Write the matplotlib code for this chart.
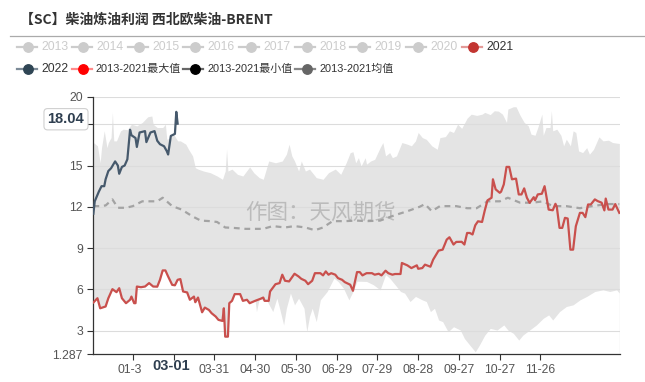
import matplotlib
matplotlib.use('Agg')
import matplotlib.pyplot as plt
import matplotlib.transforms as mtransforms
from matplotlib.lines import Line2D
from matplotlib.patches import Rectangle

W, H = 645, 382
plt.rcParams['font.family'] = ['Liberation Sans Narrow', 'Liberation Sans', 'Noto Sans CJK SC', 'DejaVu Sans']
plt.rcParams['lines.scale_dashes'] = False

# ---------------- text ----------------
title = '【SC】柴油炼油利润 西北欧柴油-BRENT'
watermark = '作图：天风期货'
tag_value = 18.04

# ---------------- x axis (day index, 0 = 01-01) ----------------
tick_days = [29, 59, 89, 119, 149, 179, 209, 239, 269, 299, 329]
tick_labels = ['01-30', '03-01', '03-31', '04-30', '05-30', '06-29', '07-29', '08-28', '09-27', '10-27', '11-26']
highlight_label = '03-01'

y_ticks = [1.287, 3, 6, 9, 12, 15, 18, 20]
y_labels = ['1.287', '3', '6', '9', '12', '15', '', '20']   # 18 is hidden under the value tag
grid_vals = [3, 6, 9, 12, 15, 18, 20]

# ---------------- 2022 ----------------
days22 = [0, 1, 4, 6, 8, 9, 11, 13, 16, 18, 19, 21, 23, 25, 27, 28,
          31, 32, 34, 38, 39, 42, 45, 47, 49, 52, 54, 55, 57, 60, 61, 62]
vals22 = [11.5, 12.4, 13.1, 13.5, 13.5, 14.0, 14.6, 14.8, 15.3, 15.0, 14.4, 14.9, 15.0, 15.45, 17.6, 17.2,
          17.0, 16.35, 17.4, 17.5, 16.7, 17.4, 17.5, 16.8, 16.55, 16.4, 16.05, 15.8, 17.15, 17.3, 18.9, 18.04]

# ---------------- 2021 ----------------
days21 = [0, 3, 5, 9, 11, 14, 17, 19, 21, 24, 27, 28, 30, 31, 32, 35, 38, 41, 44, 47,
          49, 51, 53, 55, 58, 60, 62, 64, 66, 69, 71, 74, 75, 77, 80, 82, 85, 87, 90, 92,
          95, 96, 97, 99, 100, 102, 104, 108, 110, 113, 115, 119, 123, 125, 126, 129, 130, 134, 137, 139,
          141, 144, 148, 151, 153, 156, 158, 161, 163, 167, 169, 171, 173, 175, 178, 180, 183, 185, 189, 191,
          194, 196, 198, 201, 205, 207, 210, 212, 215, 217, 220, 222, 226, 227, 231, 234, 238, 239, 242, 244,
          248, 250, 254, 257, 260, 262, 265, 267, 271, 273, 275, 277, 279, 281, 283, 286, 288, 290, 293, 294,
          296, 299, 300, 302, 304, 306, 308, 311, 313, 315, 317, 319, 321, 324, 325, 327, 330, 332, 333, 335,
          338, 340, 341, 343, 345, 347, 349, 351, 353, 355, 358, 360, 362, 364, 366, 369, 371, 374, 376, 377,
          379, 382, 384, 387]
vals21 = [5.05, 5.36, 4.63, 4.76, 5.36, 6.02, 5.8, 6.09, 5.36, 5.0, 5.25, 5.48, 5.0, 5.0, 6.21, 6.16, 6.21, 6.46, 6.21, 6.2,
          6.7, 7.38, 7.38, 6.94, 6.33, 6.3, 6.7, 6.75, 5.85, 5.78, 5.25, 5.48, 5.07, 5.41, 4.34, 4.68, 4.51, 4.27, 4.03, 3.79,
          3.71, 4.63, 2.57, 2.57, 5.0, 5.17, 5.66, 5.66, 5.17, 5.25, 5.0, 5.17, 5.32, 5.41, 5.17, 5.17, 5.85, 6.38, 6.46, 7.07,
          6.63, 6.58, 7.14, 6.94, 6.77, 6.63, 6.38, 6.63, 7.18, 7.18, 7.02, 7.31, 7.07, 7.18, 7.07, 6.82, 6.7, 6.53, 6.34, 5.9,
          7.26, 7.26, 7.02, 7.18, 7.18, 7.07, 7.14, 7.02, 7.36, 7.18, 7.07, 7.12, 7.12, 7.92, 7.75, 7.55, 7.75, 7.5, 7.55, 7.8,
          7.65, 8.16, 8.82, 8.89, 9.62, 9.79, 9.26, 9.45, 9.46, 9.26, 10.1, 10.1, 9.99, 10.66, 10.95, 10.9, 11.74, 12.47, 12.66, 14.0,
          13.27, 13.02, 13.1, 13.63, 14.9, 14.9, 14.0, 14.05, 12.9, 12.9, 13.34, 12.66, 12.29, 12.7, 12.48, 12.9, 12.95, 13.5, 12.95, 11.8,
          11.75, 12.22, 12.0, 10.47, 10.47, 11.2, 11.15, 8.89, 8.89, 10.59, 11.56, 11.56, 11.25, 12.17, 12.17, 12.54, 12.42, 12.3, 11.74, 12.6,
          11.8, 11.8, 12.2, 11.56]

# ---------------- 2013-2021 max ----------------
max_days = [0, 3, 5, 6, 8, 10, 11, 13, 14, 15, 17, 20, 22, 25, 28, 32, 36, 40, 43, 44,
            47, 51, 53, 54, 57, 59, 62, 64, 68, 70, 73, 75, 77, 81, 86, 91, 95, 97, 98, 99,
            102, 106, 110, 115, 118, 122, 125, 129, 134, 139, 142, 144, 146, 148, 151, 153, 156, 159, 164, 169,
            173, 178, 182, 186, 189, 191, 193, 195, 197, 200, 201, 204, 207, 211, 213, 215, 218, 220, 223, 227,
            231, 234, 237, 239, 242, 245, 249, 253, 255, 259, 262, 265, 268, 271, 275, 278, 282, 286, 288, 292,
            295, 298, 301, 304, 305, 309, 311, 314, 317, 320, 322, 325, 327, 330, 331, 333, 336, 337, 338, 341,
            344, 346, 348, 351, 353, 355, 357, 360, 363, 365, 368, 372, 375, 379, 382, 387]
max_vals = [16.67, 16.43, 15.2, 16.3, 17.52, 16.3, 16.67, 17.03, 18.86, 16.79, 16.79, 17.52, 17.64, 17.6, 18.0, 17.88, 18.13, 18.54, 18.6, 18.0,
            17.76, 17.76, 18.0, 16.91, 17.0, 17.28, 16.79, 16.79, 16.55, 16.18, 15.7, 14.84, 14.74, 14.6, 14.48, 14.24, 14.0, 14.6, 16.18, 14.6,
            14.74, 14.36, 14.24, 14.9, 14.48, 14.12, 14.0, 15.33, 15.2, 15.33, 15.82, 16.55, 15.7, 15.33, 14.6, 15.33, 14.6, 14.74, 14.12, 14.0,
            14.48, 14.74, 14.36, 15.2, 15.94, 16.0, 15.2, 15.57, 14.97, 15.57, 15.1, 15.33, 15.45, 16.3, 16.67, 15.7, 15.94, 15.57, 15.7, 16.67,
            16.55, 16.43, 16.79, 17.4, 17.03, 16.9, 16.43, 16.18, 17.03, 17.1, 17.52, 17.4, 18.0, 17.7, 18.44, 18.73, 18.64, 18.73, 18.86, 18.7,
            18.98, 18.95, 18.73, 18.13, 19.1, 19.27, 19.27, 18.64, 18.13, 17.88, 17.28, 17.2, 17.76, 18.73, 17.2, 17.76, 17.76, 18.98, 17.52, 17.64,
            17.2, 16.43, 16.91, 16.43, 17.52, 17.4, 16.06, 15.94, 16.3, 15.82, 16.18, 17.08, 16.79, 16.84, 16.67, 16.6]

# ---------------- 2013-2021 min (2021 itself is the minimum until 04-29) ----------------
min_tail_days = [120, 122, 128, 132, 135, 137, 140, 142, 145, 148, 151, 155, 157, 159, 161, 164, 167, 172, 177, 180,
                 184, 188, 191, 194, 201, 206, 211, 215, 218, 222, 226, 229, 233, 237, 242, 245, 248, 251, 254, 257,
                 261, 265, 270, 273, 277, 281, 284, 288, 292, 297, 302, 305, 309, 313, 316, 321, 326, 331, 335, 338,
                 343, 348, 353, 358, 363, 369, 375, 380, 385, 387]
min_tail_vals = [4.39, 5.32, 5.12, 4.39, 5.36, 4.63, 3.42, 4.63, 5.73, 4.88, 5.36, 4.63, 2.93, 4.03, 4.63, 3.66, 5.24, 5.85, 6.82, 6.58,
                 6.09, 5.24, 5.85, 6.6, 6.58, 6.34, 5.97, 7.07, 6.82, 6.34, 5.85, 5.73, 5.12, 5.49, 5.24, 5.12, 4.39, 4.63, 3.78, 3.66,
                 2.93, 3.29, 3.05, 2.44, 1.95, 1.47, 1.95, 2.68, 3.17, 3.05, 3.42, 3.05, 2.81, 2.32, 2.68, 3.05, 3.42, 3.9, 4.15, 3.78,
                 4.39, 4.76, 4.88, 5.24, 5.49, 5.85, 5.97, 5.85, 5.97, 5.73]

# ---------------- 2013-2021 mean ----------------
mean_days = [0, 5, 9, 14, 18, 24, 29, 36, 42, 47, 51, 58, 65, 73, 79, 86, 91, 97, 103, 112,
             119, 125, 132, 141, 148, 156, 163, 169, 176, 185, 194, 201, 211, 222, 231, 240, 244, 249, 255, 262,
             267, 275, 282, 290, 299, 305, 314, 323, 331, 338, 348, 358, 367, 378, 387]
mean_vals = [12.05, 12.05, 12.1, 12.54, 11.93, 11.93, 12.05, 12.4, 12.4, 12.4, 12.66, 12.05, 11.8, 11.3, 11.0, 10.96, 10.9, 10.5, 10.47, 10.4,
             10.4, 10.4, 10.6, 10.5, 10.6, 10.5, 10.3, 10.5, 10.96, 10.96, 11.0, 10.96, 11.0, 11.4, 11.68, 12.0, 12.2, 11.68, 12.05, 12.05,
             12.05, 11.9, 11.9, 12.4, 12.4, 12.66, 12.3, 12.3, 12.4, 12.05, 12.05, 11.9, 12.05, 12.2, 12.2]

min_cut = 119
min_days = [d for d in days21 if d <= min_cut] + min_tail_days
min_vals = [v for d, v in zip(days21, vals21) if d <= min_cut] + min_tail_vals

# ---------------- legend ----------------
legend_row1 = ['2013', '2014', '2015', '2016', '2017', '2018', '2019', '2020', '2021']
legend_row2 = ['2022', '2013-2021最大值', '2013-2021最小值', '2013-2021均值']

# ---------------- colours ----------------
c21 = '#c9504d'
c22 = '#46596c'
c_mean = '#a3a3a3'
c_band = '#e4e4e4'
c_grid = '#dcdcdc'


def fx(x):
    return x / W


def fy(y):
    return 1 - y / H


fig = plt.figure(figsize=(W / 100, H / 100), dpi=100)
fig.patch.set_facecolor('white')

ax = fig.add_axes([fx(92.7), fy(354.3), (620 - 92.7) / W, (354.3 - 96.7) / H])
ax.set_xlim(-0.5, 387.5)
ax.set_ylim(1.287, 20)

ax.fill_between(max_days, max_vals, 0, color=c_band, lw=0, zorder=1)
ax.fill_between(min_days, min_vals, 0, color='white', lw=0, zorder=1.1)
for g in grid_vals:
    ax.axhline(g, color=c_grid, lw=0.8, zorder=1.5)

ml, = ax.plot(mean_days, mean_vals, color=c_mean, lw=1.6, zorder=2.5)
ml.set_dashes([4.2, 3.4])
ax.plot(days21, vals21, color=c21, lw=1.6, zorder=3, solid_joinstyle='round')
ax.plot(days22, vals22, color=c22, lw=1.6, zorder=3.2, solid_joinstyle='round')

for s in ['top', 'right']:
    ax.spines[s].set_visible(False)
for s in ['left', 'bottom']:
    ax.spines[s].set_color('#333333')
    ax.spines[s].set_linewidth(0.9)

ax.set_yticks(y_ticks)
ax.set_yticklabels(y_labels)
ax.set_xticks(tick_days)
ax.set_xticklabels(['' if t == highlight_label else t for t in tick_labels])
ax.tick_params(axis='y', length=4, width=0.8, color='#333333', labelcolor='#555555', labelsize=8.8, pad=3)
ax.tick_params(axis='x', length=4, width=0.8, color='#333333', labelcolor='#555555', labelsize=8.8, pad=3)

# value tag on the y axis
trans = mtransforms.blended_transform_factory(ax.transAxes, ax.transData)
ax.annotate(f'{tag_value:.2f}', xy=(0, tag_value), xycoords=trans, xytext=(-6, 3.2),
            textcoords='offset points', ha='right', va='center', fontsize=10.5, fontweight='bold',
            family=['Liberation Sans', 'DejaVu Sans'], color='#2f3f50',
            bbox=dict(boxstyle='round,pad=0.25', fc='white', ec='#d0d0d0', lw=0.8),
            annotation_clip=False, zorder=10)

# highlighted x label (covers part of the neighbouring label, as in the reference)
hx = tick_days[tick_labels.index(highlight_label)]
cover = Rectangle((fx(141), fy(377)), 10 / W, 19 / H, transform=fig.transFigure,
                  facecolor='white', edgecolor='none', zorder=5)
fig.add_artist(cover)
px_hx = ax.transData.transform((hx, 0))[0]
fig.text(px_hx / W - 2 / W, fy(366), highlight_label, ha='center', va='center', fontsize=10.5,
         fontweight='bold', family=['Liberation Sans', 'DejaVu Sans'], color='#2f3f50', zorder=6)

# watermark
fig.text(fx(320), fy(213), watermark, ha='center', va='center', fontsize=15.5,
         family=['Noto Sans CJK SC', 'DejaVu Sans'], color='#9a9a9a', alpha=0.55, zorder=20)

# title & separator
fig.text(fx(20), fy(19.5), title, ha='left', va='center', fontsize=10, fontweight='bold',
         family=['Noto Sans CJK SC', 'DejaVu Sans'], color='#333333')
fig.add_artist(Line2D([fx(10), 1.0], [fy(36), fy(36)], transform=fig.transFigure, color='#aaaaaa', lw=0.9))


def legend_item(x0, y, label, lc, mc, tc, size=8.8):
    fig.add_artist(Line2D([fx(x0), fx(x0 + 20)], [fy(y), fy(y)], transform=fig.transFigure,
                          color=lc, lw=1.6))
    fig.add_artist(Line2D([fx(x0 + 11.6)], [fy(y)], transform=fig.transFigure, marker='o',
                          ms=6.8, mfc=mc, mec=mc, lw=0))
    fig.text(fx(x0 + 24.3), fy(y), label, ha='left', va='center', fontsize=size, color=tc,
             family=['Liberation Sans Narrow', 'Liberation Sans', 'Noto Sans CJK SC', 'DejaVu Sans'])


row1_x = [16.7, 71.7, 127.7, 183.3, 239, 295, 350, 406, 461.7]
for x0, lab in zip(row1_x, legend_row1):
    if lab == '2021':
        legend_item(x0, 46.7, lab, '#e39a98', '#c23531', '#333333')
    else:
        legend_item(x0, 46.7, lab, '#cccccc', '#cccccc', '#cccccc')

row2_x = [16.7, 71.7, 183.3, 295]
row2_style = [('#7d8b98', '#2f4554', '#333333'),
              ('#ff8a8a', '#ff0000', '#333333'),
              ('#666666', '#000000', '#333333'),
              ('#888888', '#666666', '#333333')]
for x0, lab, st in zip(row2_x, legend_row2, row2_style):
    legend_item(x0, 69.3, lab, *st, size=8.8 if lab == '2022' else 7.9)

fig.savefig('out.png', dpi=100, facecolor='white')
